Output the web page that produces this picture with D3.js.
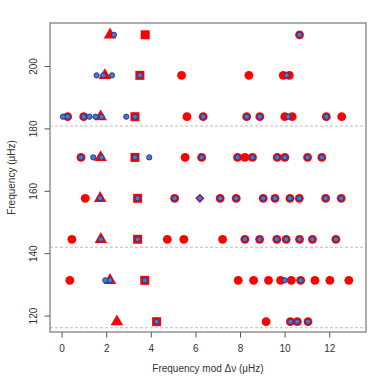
<!DOCTYPE html>
<html>
<head>
<meta charset="utf-8">
<script src="https://cdn.jsdelivr.net/npm/d3@7"></script>
<style>
  html, body { margin: 0; padding: 0; background: #fff; }
  svg { display: block; }
  text { font-family: "Liberation Sans", Arial, Helvetica, sans-serif; }
</style>
</head>
<body>
<svg id="chart" width="390" height="390"></svg>
<script>
// ---- data (échelle diagram: x = frequency mod Δν, y = frequency) ----
const xTicks = [0, 2, 4, 6, 8, 10, 12];
const yTicks = [120, 140, 160, 180, 200];
const dashedLevels = [180.75, 141.9, 116.1];

// red filled circles [mod, freq]
const redCircles = [
  [10.67, 210.0],
  [5.38, 197.0], [8.40, 197.0], [9.94, 197.0], [10.21, 197.0],
  [0.27, 183.75], [0.99, 183.75], [5.62, 183.75], [6.35, 183.75], [8.30, 183.75], [8.89, 183.75],
  [10.01, 183.75], [10.34, 183.75], [11.87, 183.75], [12.56, 183.75],
  [0.87, 170.7], [5.54, 170.7], [6.28, 170.7], [7.89, 170.7], [8.22, 170.7], [8.56, 170.7],
  [9.67, 170.7], [10.01, 170.7], [11.03, 170.7], [11.67, 170.7],
  [1.06, 157.6], [5.07, 157.6], [7.11, 157.6], [7.83, 157.6], [9.04, 157.6], [9.57, 157.6],
  [10.24, 157.6], [10.66, 157.6], [11.84, 157.6], [12.54, 157.6],
  [0.46, 144.45], [4.74, 144.45], [5.48, 144.45], [7.22, 144.45], [8.22, 144.45], [8.88, 144.45],
  [9.65, 144.45], [10.07, 144.45], [10.67, 144.45], [11.25, 144.45], [12.30, 144.45],
  [0.37, 131.3], [7.92, 131.3], [8.61, 131.3], [9.28, 131.3], [9.82, 131.3], [10.30, 131.3],
  [10.72, 131.3], [11.36, 131.3], [12.03, 131.3], [12.88, 131.3],
  [9.17, 118.05], [10.26, 118.05], [10.57, 118.05], [11.05, 118.05]
];

// red filled triangles [mod, freq]
const redTriangles = [
  [2.17, 210.0], [1.94, 197.0], [1.75, 183.75], [1.75, 170.7],
  [1.73, 157.6], [1.76, 144.45], [2.17, 131.3], [2.48, 118.05]
];

// red filled squares [mod, freq]
const redSquares = [
  [3.75, 210.0], [3.51, 197.0], [3.29, 183.75], [3.29, 170.7],
  [3.41, 157.6], [3.41, 144.45], [3.73, 131.3], [4.26, 118.05]
];

// red diamonds [mod, freq]
const redDiamonds = [
  [6.20, 157.6]
];

// blue points [mod, freq]
const bluePoints = [
  [2.35, 210.0], [10.67, 210.0],
  [1.57, 197.0], [1.87, 197.0], [2.26, 197.0], [3.51, 197.0], [10.09, 197.0],
  [0.06, 183.75], [0.27, 183.75], [0.99, 183.75], [1.25, 183.75], [1.52, 183.75], [1.79, 183.75],
  [2.90, 183.75], [3.29, 183.75], [6.35, 183.75], [8.30, 183.75], [8.89, 183.75], [10.16, 183.75], [11.87, 183.75],
  [0.87, 170.7], [1.42, 170.7], [1.79, 170.7], [3.29, 170.7], [3.93, 170.7], [6.28, 170.7], [7.89, 170.7],
  [8.56, 170.7], [9.67, 170.7], [10.01, 170.7], [11.03, 170.7], [11.67, 170.7],
  [1.73, 157.6], [3.41, 157.6], [5.07, 157.6], [6.20, 157.6], [7.11, 157.6], [7.83, 157.6], [9.04, 157.6],
  [9.57, 157.6], [10.24, 157.6], [10.66, 157.6], [11.84, 157.6], [12.54, 157.6],
  [1.76, 144.45], [3.41, 144.45], [8.22, 144.45], [8.88, 144.45], [9.65, 144.45], [10.07, 144.45],
  [10.67, 144.45], [11.25, 144.45], [12.30, 144.45],
  [1.96, 131.3], [2.17, 131.3], [3.73, 131.3], [10.01, 131.3], [10.72, 131.3],
  [4.26, 118.05], [10.26, 118.05], [10.57, 118.05], [11.05, 118.05]
];

// ---- layout ----
const svg = d3.select("#chart");
const plot = { left: 50, right: 366, top: 23, bottom: 332 };

const x = d3.scaleLinear().domain([-0.52, 13.65]).range([plot.left, plot.right]);
const y = d3.scaleLinear().domain([114.74, 213.78]).range([plot.bottom, plot.top]);

const RED = "#ff0000";

// dashed reference lines
svg.append("g").selectAll("line").data(dashedLevels).join("line")
  .attr("x1", plot.left).attr("x2", plot.right)
  .attr("y1", d => y(d)).attr("y2", d => y(d))
  .attr("stroke", "#bdbdbd").attr("stroke-width", 1)
  .attr("stroke-dasharray", "3,2");

// red circles
svg.append("g").selectAll("circle").data(redCircles).join("circle")
  .attr("cx", d => x(d[0])).attr("cy", d => y(d[1]))
  .attr("r", 4.4).attr("fill", RED);

// red triangles (centroid at data point)
const triW = 12.5, triH = triW * Math.sqrt(3) / 2;
svg.append("g").selectAll("path").data(redTriangles).join("path")
  .attr("transform", d => `translate(${x(d[0])},${y(d[1])})`)
  .attr("d", `M0,${-2 * triH / 3}L${triW / 2},${triH / 3}L${-triW / 2},${triH / 3}Z`)
  .attr("fill", RED);

// red squares
const sq = 9;
svg.append("g").selectAll("rect").data(redSquares).join("rect")
  .attr("x", d => x(d[0]) - sq / 2).attr("y", d => y(d[1]) - sq / 2)
  .attr("width", sq).attr("height", sq).attr("fill", RED);

// red diamonds
const dm = 4.6;
svg.append("g").selectAll("path").data(redDiamonds).join("path")
  .attr("transform", d => `translate(${x(d[0])},${y(d[1])})`)
  .attr("d", `M0,${-dm}L${dm},0L0,${dm}L${-dm},0Z`)
  .attr("fill", RED);

// blue points
svg.append("g").selectAll("circle").data(bluePoints).join("circle")
  .attr("cx", d => x(d[0])).attr("cy", d => y(d[1]))
  .attr("r", 2.6).attr("fill", "#4a7cc4")
  .attr("stroke", "#1f35a0").attr("stroke-width", 1);

// box
svg.append("rect")
  .attr("x", plot.left).attr("y", plot.top)
  .attr("width", plot.right - plot.left).attr("height", plot.bottom - plot.top)
  .attr("fill", "none").attr("stroke", "#777").attr("stroke-width", 1.2);

// x axis
const xAxis = svg.append("g").attr("transform", `translate(0,${plot.bottom})`)
  .call(d3.axisBottom(x).tickValues(xTicks).tickSize(5.5).tickPadding(7.5).tickFormat(d3.format("d")));
xAxis.select(".domain").remove();
xAxis.selectAll(".tick line").attr("stroke", "#555");
xAxis.selectAll("text").attr("font-size", 10).attr("fill", "#333")
  .attr("font-family", "'Liberation Sans', Arial, sans-serif");

// y axis (rotated labels, R style)
const yAxis = svg.append("g").attr("transform", `translate(${plot.left},0)`)
  .call(d3.axisLeft(y).tickValues(yTicks).tickSize(5.5).tickFormat(d3.format("d")));
yAxis.select(".domain").remove();
yAxis.selectAll(".tick line").attr("stroke", "#555");
yAxis.selectAll(".tick text")
  .attr("x", null).attr("dy", null)
  .attr("text-anchor", "middle")
  .attr("transform", "translate(-13.5,0) rotate(-90)")
  .attr("font-size", 10).attr("fill", "#333")
  .attr("font-family", "'Liberation Sans', Arial, sans-serif");

// axis titles
svg.append("text")
  .attr("x", (plot.left + plot.right) / 2).attr("y", 372)
  .attr("text-anchor", "middle").attr("font-size", 10).attr("fill", "#333")
  .text("Frequency mod Δν (μHz)");

svg.append("text")
  .attr("transform", `translate(15,${(plot.top + plot.bottom) / 2}) rotate(-90)`)
  .attr("text-anchor", "middle").attr("font-size", 10).attr("fill", "#333")
  .text("Frequency (μHz)");
</script>
</body>
</html>
